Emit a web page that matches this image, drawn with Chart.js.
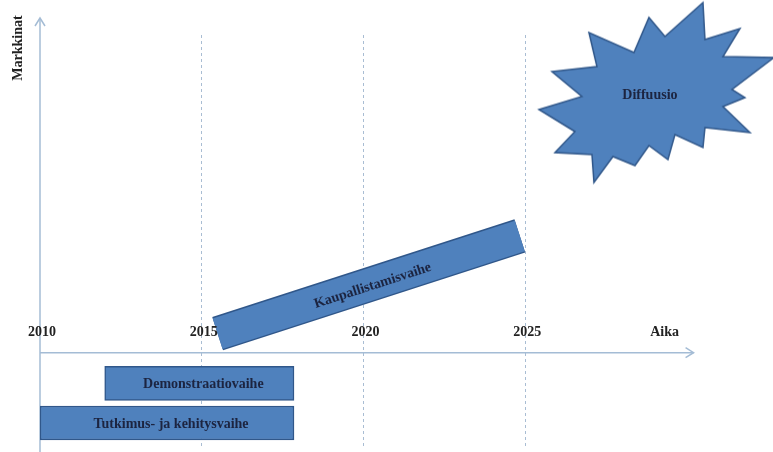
<!DOCTYPE html>
<html>
<head>
<meta charset="utf-8">
<script src="https://cdn.jsdelivr.net/npm/chart.js@4/dist/chart.umd.min.js"></script>
<style>
  body { margin: 0; background: #fff; }
</style>
</head>
<body>
<canvas id="timeline" width="773" height="452"></canvas>
<script>
'use strict';

// flat phases under the time axis (years from .. to)
var flatPhases = ['Demonstraatiovaihe', 'Tutkimus- ja kehitysvaihe'];
var flatStart = [2012, 2010];
var flatEnd = [2017.85, 2017.85];
var flatLevel = [-0.91, -2.08];

// rising commercialisation phase
var risingPhase = 'Kaupallistamisvaihe';
var risingYears = [2015.49, 2024.83];
var risingLevels = [0.56, 3.45];

// diffusion burst
var diffusionLabel = 'Diffuusio';
var diffusionYears = [2028.85];
var diffusionLevels = [7.6];

var tickYears = [2010, 2015, 2020, 2025];
var xTitle = 'Aika';
var yTitle = 'Markkinat';
var axisEndYear = 2030.2;

var FILL = '#4f81bd';
var EDGE = '#30578a';
var AXIS = '#a4bcd5';
var TEXT = '#1c2440';
var FONT = 'bold 14px "Liberation Serif", serif';

// outline of the burst, offsets from its centre in px
var STAR_SHAPE = [
    [53,-93],[55,-56],[90,-67],[73,-39],[124,-38],[82,-6],[95,2],[73,11],
    [100,37],[55,32],[53,52],[25,39],[18,64],[-1,50],[-15,70],[-37,61],
    [-56,87],[-58,59],[-95,57],[-75,36],[-111,14],[-68,1],[-98,-24],[-53,-29],
    [-61,-63],[-16,-43],[-1,-78],[15,-59]
];

function makeStar() {
    var c = document.createElement('canvas');
    c.width = 260;
    c.height = 200;
    var g = c.getContext('2d');
    g.beginPath();
    STAR_SHAPE.forEach(function (p, i) {
        if (i === 0) g.moveTo(130 + p[0], 100 + p[1]);
        else g.lineTo(130 + p[0], 100 + p[1]);
    });
    g.closePath();
    g.fillStyle = FILL;
    g.fill();
    g.lineWidth = 1.5;
    g.strokeStyle = EDGE;
    g.stroke();
    return c;
}

function arrowHead(ctx, x, y, dir) {
    ctx.beginPath();
    if (dir === 'up') {
        ctx.moveTo(x - 5, y + 8);
        ctx.lineTo(x, y);
        ctx.lineTo(x + 5, y + 8);
    } else {
        ctx.moveTo(x - 8, y - 5);
        ctx.lineTo(x, y);
        ctx.lineTo(x - 8, y + 5);
    }
    ctx.stroke();
}

var axesPlugin = {
    id: 'axesPlugin',
    beforeDatasetsDraw: function (chart) {
        var ctx = chart.ctx;
        var xs = chart.scales.x, ys = chart.scales.y;
        var x0 = xs.getPixelForValue(tickYears[0]);
        var y0 = ys.getPixelForValue(0);
        ctx.save();
        ctx.strokeStyle = AXIS;
        ctx.lineWidth = 1.5;
        ctx.beginPath();
        ctx.moveTo(x0, chart.height);
        ctx.lineTo(x0, 18);
        ctx.stroke();
        arrowHead(ctx, x0, 18, 'up');
        var xe = xs.getPixelForValue(axisEndYear);
        ctx.beginPath();
        ctx.moveTo(x0, y0);
        ctx.lineTo(xe, y0);
        ctx.stroke();
        arrowHead(ctx, xe, y0, 'right');
        ctx.restore();
    },
    afterDatasetsDraw: function (chart) {
        var ctx = chart.ctx;
        var xs = chart.scales.x, ys = chart.scales.y;
        var y0 = ys.getPixelForValue(0);
        ctx.save();
        ctx.font = FONT;
        ctx.fillStyle = '#222';
        ctx.textAlign = 'center';
        ctx.textBaseline = 'middle';
        tickYears.forEach(function (yr) {
            ctx.fillText(String(yr), xs.getPixelForValue(yr) + 2, y0 - 20);
        });
        ctx.fillText(xTitle, xs.getPixelForValue(axisEndYear) - 29, y0 - 20);

        ctx.save();
        ctx.translate(18, 48);
        ctx.rotate(-Math.PI / 2);
        ctx.fillText(yTitle, 0, 0);
        ctx.restore();

        ctx.fillStyle = TEXT;
        // flat bars
        chart.getDatasetMeta(0).data.forEach(function (bar, i) {
            var p = bar.getCenterPoint();
            ctx.fillText(flatPhases[i], p.x + 4, p.y + 1);
        });
        // rising bar
        var ax = xs.getPixelForValue(risingYears[0]), ay = ys.getPixelForValue(risingLevels[0]);
        var bx = xs.getPixelForValue(risingYears[1]), by = ys.getPixelForValue(risingLevels[1]);
        ctx.save();
        ctx.translate((ax + bx) / 2 + 4, (ay + by) / 2 + 1);
        ctx.rotate(Math.atan2(by - ay, bx - ax));
        ctx.fillText(risingPhase, 0, 0);
        ctx.restore();
        // burst
        var sp = chart.getDatasetMeta(3).data[0];
        ctx.fillText(diffusionLabel, sp.x, sp.y);
        ctx.restore();
    }
};

var risingData = risingYears.map(function (yr, i) {
    return { x: yr, y: risingLevels[i] };
});

var ctx = document.getElementById('timeline').getContext('2d');
var timeline = new Chart(ctx, {
    type: 'bar',
    data: {
        datasets: [{
            type: 'bar',
            indexAxis: 'y',
            data: flatPhases.map(function (name, i) {
                return { x: [flatStart[i], flatEnd[i]], y: flatLevel[i] };
            }),
            backgroundColor: FILL,
            borderColor: EDGE,
            borderWidth: 1.5,
            borderSkipped: false,
            barThickness: 34
        }, {
            // fill of the rising bar (drawn after its outline)
            type: 'line',
            data: risingData,
            borderColor: FILL,
            borderWidth: 32,
            borderCapStyle: 'butt',
            pointRadius: 0,
            clip: false
        }, {
            type: 'line',
            data: risingData,
            borderColor: EDGE,
            borderWidth: 35,
            borderCapStyle: 'butt',
            pointRadius: 0,
            clip: false
        }, {
            type: 'scatter',
            data: diffusionYears.map(function (yr, i) {
                return { x: yr, y: diffusionLevels[i] };
            }),
            pointStyle: makeStar(),
            clip: false
        }]
    },
    options: {
        responsive: false,
        animation: false,
        layout: { padding: { left: 40, top: 35, right: 0, bottom: 0 } },
        plugins: { legend: { display: false }, tooltip: { enabled: false } },
        scales: {
            x: {
                type: 'linear',
                min: 2010,
                max: 2032.5,
                offset: false,
                afterBuildTicks: function (scale) {
                    scale.ticks = tickYears.map(function (v) { return { value: v }; });
                },
                afterFit: function (scale) { scale.height = 0; },
                ticks: { display: false },
                grid: {
                    offset: false,
                    drawTicks: false,
                    color: function (c) {
                        return c.tick && c.tick.value === tickYears[0] ? 'rgba(0,0,0,0)' : '#a9bdd3';
                    },
                    lineWidth: 1
                },
                border: { display: false, dash: [3, 3] }
            },
            y: {
                type: 'linear',
                min: -2.79,
                max: 9.39,
                offset: false,
                display: false
            }
        }
    },
    plugins: [axesPlugin]
});
</script>
</body>
</html>
